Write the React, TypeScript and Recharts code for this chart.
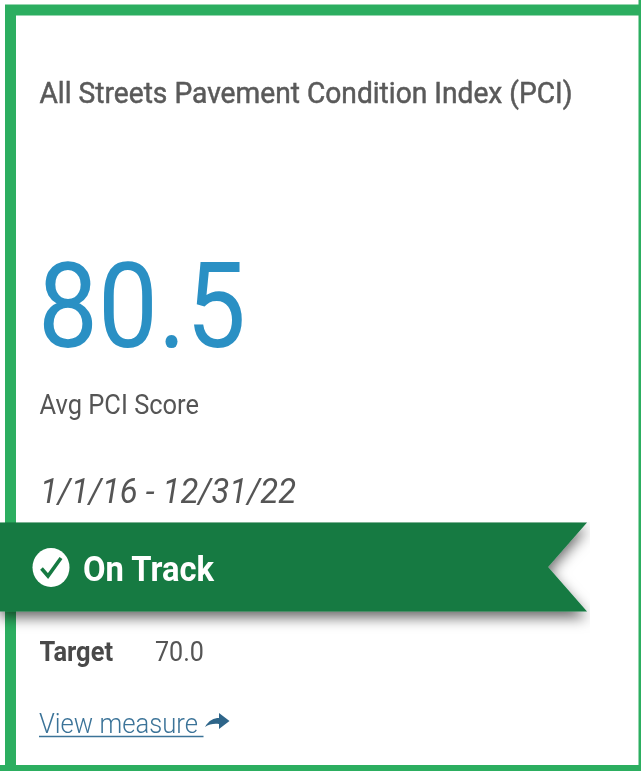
import { BarChart, Bar, XAxis, YAxis } from "recharts";

const statusLabels = ["On Track"];
const scoreValues = [80.5];
const targetValues = [70.0];
const titleText = "All Streets Pavement Condition Index (PCI)";
const scoreLabel = "Avg PCI Score";
const dateRange = "1/1/16 - 12/31/22";
const targetLabel = "Target";
const linkLabel = "View measure";

const chartData = statusLabels.map((status, i) => ({
  status,
  score: scoreValues[i],
}));

const FONT = "Roboto, sans-serif";
const GREEN_BORDER = "#2CAE60";
const GREEN_RIBBON = "#177A43";
const BLUE = "#2B90C4";
const TEXT_DARK = "#555555";
const LINK = "#3B7398";

// swallow-tail ribbon drawn from the bar rectangle the scale hands us,
// the badge sits in here too because bars paint above plain chart children
function RibbonShape(props: any): React.JSX.Element {
  const { x, y, width, height, status } = props;
  const right = x + width;
  const d = `M${x},${y} H${right} L${right - 39},${y + height / 2} L${right},${y + height} H${x} Z`;
  return (
    <g>
      <path d={d} fill={GREEN_RIBBON} filter="url(#ribbonShadow)" />
      <g filter="url(#soften)">
        <ellipse cx={x + 51} cy={y + 45} rx={18.5} ry={19.5} fill="#fff" />
        <path
          d={`M${x + 41.5},${y + 46} L${x + 48},${y + 53.5} L${x + 61},${y + 35.5}`}
          fill="none"
          stroke={GREEN_RIBBON}
          strokeWidth={3.6}
        />
        <text
          x={x + 83}
          y={y + 58.5}
          fontFamily={FONT}
          fontSize={35}
          fontWeight={700}
          fill="#fff"
          textLength={131}
          lengthAdjust="spacingAndGlyphs"
        >
          {status}
        </text>
      </g>
    </g>
  );
}

export default function App(): React.JSX.Element {
  return (
    <div style={{ position: "absolute", left: 0, top: 0, width: 641, height: 771, background: "#fff" }}>
      <BarChart
        width={641}
        height={771}
        data={chartData}
        layout="vertical"
        barCategoryGap={0}
        margin={{ top: 522.5, right: 0, bottom: 159.5, left: 0 }}
      >
        <defs>
          {/* region starts at the ribbon top so no shadow leaks above it */}
          <filter id="ribbonShadow" filterUnits="userSpaceOnUse" x={0} y={522} width={590} height={128}>
            <feDropShadow dx={0} dy={6} stdDeviation={7} floodColor="#000" floodOpacity={0.6} />
          </filter>
          <filter id="soften" x="-5%" y="-20%" width="110%" height="140%">
            <feGaussianBlur stdDeviation={0.45} />
          </filter>
        </defs>

        <path d="M10.5,771 V10 H641" fill="none" stroke={GREEN_BORDER} strokeWidth={11} />
        <path d="M0,768 H641" fill="none" stroke={GREEN_BORDER} strokeWidth={6} />
        <path d="M641,0 V771" fill="none" stroke={GREEN_BORDER} strokeWidth={5} />

        <XAxis type="number" hide domain={[0, 87.9]} />
        <YAxis type="category" dataKey="status" hide />
        <Bar dataKey="score" isAnimationActive={false} shape={<RibbonShape />} />

        <g fontFamily={FONT} filter="url(#soften)">
          <text x={39.5} y={103} fontSize={29} fontWeight={400} fill="#5a5a5a" stroke="#5a5a5a" strokeWidth={0.5} textLength={533} lengthAdjust="spacingAndGlyphs">
            {titleText}
          </text>
          <text x={38} y={347} fontSize={119} fontWeight={400} fill={BLUE} textLength={208} lengthAdjust="spacingAndGlyphs">
            {scoreValues[0].toFixed(1)}
          </text>
          <text x={39.5} y={414} fontSize={27.5} fill={TEXT_DARK} textLength={159.5} lengthAdjust="spacingAndGlyphs">
            {scoreLabel}
          </text>
          <text x={40} y={503} fontSize={34.5} fontStyle="italic" fill={TEXT_DARK} textLength={256} lengthAdjust="spacingAndGlyphs">
            {dateRange}
          </text>
          <text x={39.5} y={661} fontSize={27} fontWeight={700} fill="#4a4a4a" textLength={73.5} lengthAdjust="spacingAndGlyphs">
            {targetLabel}
          </text>
          <text x={155} y={661} fontSize={27} fill={TEXT_DARK} textLength={49} lengthAdjust="spacingAndGlyphs">
            {targetValues[0].toFixed(1)}
          </text>
          <text x={39} y={733} fontSize={28} fontWeight={300} fill={LINK} textLength={159} lengthAdjust="spacingAndGlyphs">
            {linkLabel}
          </text>
          <path d="M39,736.5 H203.5" stroke={LINK} strokeWidth={1.5} />
          <path
            d="M205,727 C209,720 214,718 219,718 V713 L229.5,721 L219,729 V724 C214,723.5 209,724 205,727 Z"
            fill="#2E6589"
          />
        </g>
      </BarChart>
    </div>
  );
}
